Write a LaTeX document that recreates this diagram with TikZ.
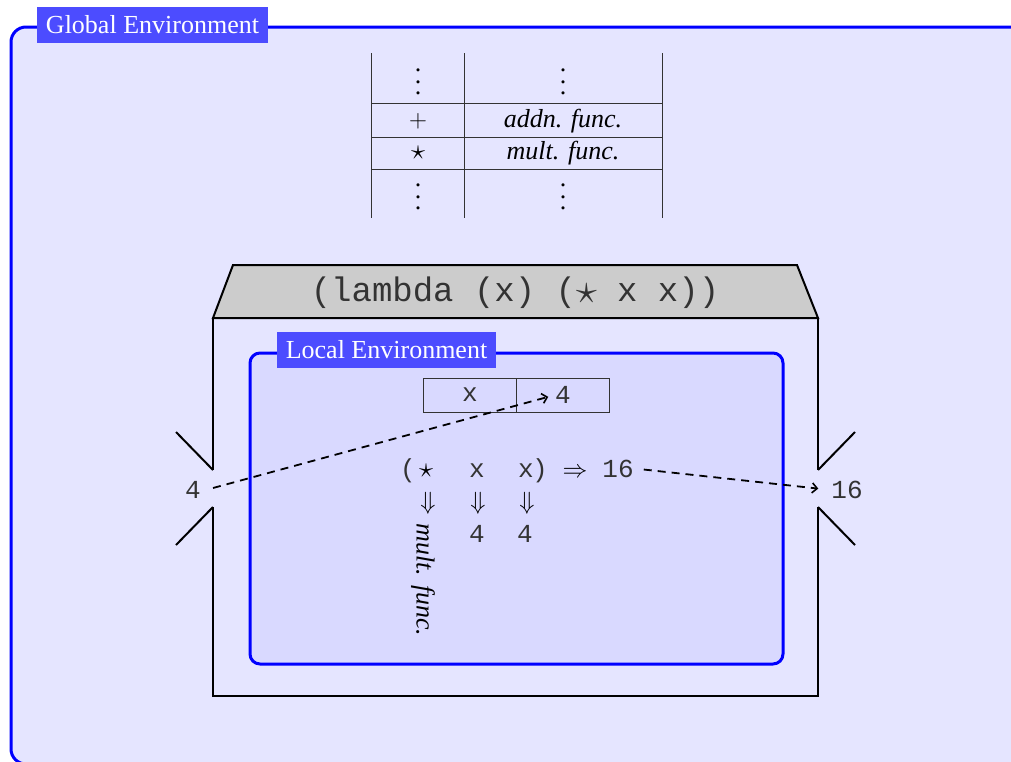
\documentclass[tikz,border=0pt]{standalone}
\usepackage{fontspec}
\setmainfont{Liberation Serif}
\setmonofont{Liberation Mono}
\usetikzlibrary{arrows.meta}
\newcommand{\tabdots}{\vbox{\baselineskip11.5pt\lineskiplimit-10pt\hbox{.}\hbox{.}\hbox{.}}}
\newcommand{\bigstarsym}{\raisebox{-2pt}{\scalebox{1.7}{$\star$}}}
\tikzset{
  envframe/.style={draw=blue, line width=3pt},
  envlabel/.style={fill=blue!70, text=white, font=\fontsize{26}{30}\selectfont,
    inner xsep=9pt, inner ysep=0pt, minimum height=36pt},
  rmtxt/.style={font=\fontsize{26}{30}\selectfont, inner sep=0pt},
  ittxt/.style={font=\fontsize{26}{30}\selectfont\itshape, inner sep=0pt},
  tttxt/.style={font=\ttfamily\fontsize{26}{30}\selectfont, inner sep=0pt, text=black!80},
  tabline/.style={draw=black!80, line width=1pt},
  boxline/.style={draw=black, line width=2pt},
  flow/.style={draw=black, line width=1.8pt, dash pattern=on 8pt off 6pt,
    -{Straight Barb[length=5pt,width=10pt,line width=1.6pt]}},
}
\begin{document}
\begin{tikzpicture}[x=1pt,y=-1pt]
\useasboundingbox (0,0) rectangle (1011,761);
\clip (0,0) rectangle (1011,761);

% global environment
\path[envframe, fill=blue!10, rounded corners=15pt] (11,27) rectangle (1040,764);
\node[envlabel] (glab) at (152.5,25) {Global Environment};

% table
\draw[tabline] (371,53) -- (371,218);
\draw[tabline] (464,53) -- (464,218);
\draw[tabline] (662,53) -- (662,218);
\draw[tabline] (371,103) -- (662,103);
\draw[tabline] (371,137) -- (662,137);
\draw[tabline] (371,169) -- (662,169);
\node[rmtxt] (t11) at (418,82) {\tabdots};
\node[rmtxt] (t12) at (563,82) {\tabdots};
\node[rmtxt, anchor=base] (t21) at (418,127) {$+$};
\node[ittxt, anchor=base] (t22) at (563,127) {addn. func.};
\node[rmtxt, anchor=base] (t31) at (418,159.5) {\scalebox{1.15}{$\star$}};
\node[ittxt, anchor=base] (t32) at (563,159) {mult. func.};
\node[rmtxt] (t41) at (418,197) {\tabdots};
\node[rmtxt] (t42) at (563,197) {\tabdots};

% lambda box
\path[boxline, fill=black!20] (213,318) -- (233,265) -- (797,265) -- (818,318) -- cycle;
\node[tttxt, font=\ttfamily\fontsize{34}{38}\selectfont] (lam) at (515,293) {(lambda (x) (\bigstarsym{} x x))};
\draw[boxline] (213,470) -- (213,318) -- (818,318) -- (818,470);
\draw[boxline] (818,507) -- (818,696) -- (213,696) -- (213,507);
\draw[boxline] (213,470) -- (176,432);
\draw[boxline] (213,507) -- (176,545);
\draw[boxline] (818,470) -- (855,432);
\draw[boxline] (818,507) -- (855,545);

% local environment
\path[envframe, fill=blue!15, rounded corners=10pt] (250,353) rectangle (783,664);
\node[envlabel] (llab) at (386.5,350) {Local Environment};

% binding
\node[tabline, minimum width=93pt, minimum height=34pt, inner sep=0pt] (cellx) at (469.5,395) {};
\node[tabline, minimum width=93pt, minimum height=34pt, inner sep=0pt] (cellv) at (562.5,395) {};
\node[tttxt] (bx) at (470,395) {x};
\node[tttxt] (val4) at (563,395) {4};

% evaluation
\node[tttxt, anchor=base] (lp) at (408,477) {(};
\node[rmtxt, anchor=base] (st) at (426,477) {\scalebox{1.15}{$\star$}};
\node[tttxt, anchor=base] (x1) at (477,477) {x};
\node[tttxt, anchor=base] (x2) at (526,477) {x};
\node[tttxt, anchor=base] (rp) at (540,477) {)};
\node[rmtxt, anchor=base] (imp) at (575,477) {$\Rightarrow$};
\node[tttxt, anchor=base] (res16) at (618,477) {16};
\node[rmtxt] (d1) at (428,503) {$\Downarrow$};
\node[rmtxt] (d2) at (478,503) {$\Downarrow$};
\node[rmtxt] (d3) at (527,503) {$\Downarrow$};
\node[tttxt, anchor=base] (f1) at (477,542) {4};
\node[tttxt, anchor=base] (f2) at (525,542) {4};
\node[ittxt, rotate=-90] (mf) at (423,580) {mult. func.};

% input / output
\node[tttxt] (in4) at (193,490) {4};
\coordinate (inpt) at (213,488);
\node[tttxt] (out16) at (847,490) {16};
\draw[flow, shorten >=7pt] (inpt) -- (val4.west);
\draw[flow, shorten <=10pt, shorten >=13pt] (res16.east) -- (out16.west);
\end{tikzpicture}
\end{document}
